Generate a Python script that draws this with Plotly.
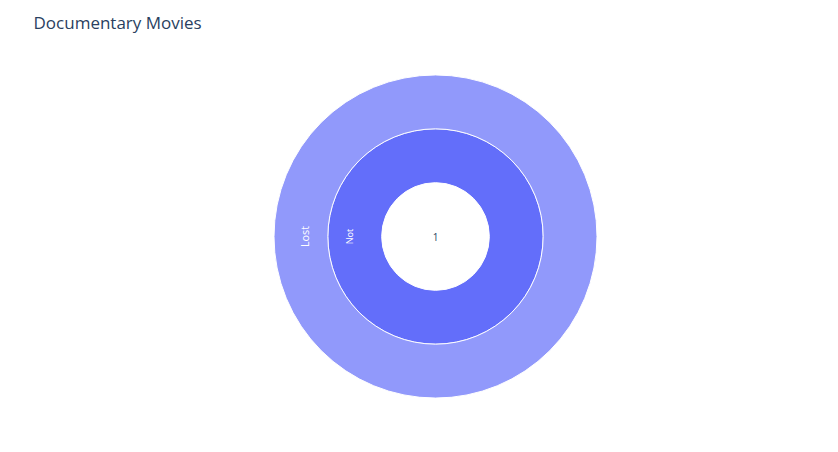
import plotly.graph_objects as go

ids = ["1", "Not", "Lost"]
labels = ["1", "Not", "Lost"]
parents = ["", "1", "Not"]
values = [1, 1, 1]

# label layout tweaks (padding / spacer lines) so the ring labels sit tangentially
pad_counts = [0, 19, 26]
spacer_lines = [0, 2, 1]
templates = []
for n, k in zip(pad_counts, spacer_lines):
    pad = "\u00a0" * n
    templates.append(pad + "%{label}" + pad + "<br>\u00a0" * k)
sizes = [10 if p == "" else 12 for p in parents]

fig = go.Figure(go.Sunburst(
    ids=ids,
    labels=labels,
    parents=parents,
    values=values,
    branchvalues="total",
    texttemplate=templates,
    textfont=dict(size=sizes),
    insidetextorientation="auto",
))
fig.update_layout(
    template="plotly",
    title=dict(text="Documentary Movies", x=0.04, y=0.95, yanchor="middle"),
    width=838,
    height=452,
    margin=dict(t=75, b=54, l=113, r=80),
)
fig.write_html("out.html")
